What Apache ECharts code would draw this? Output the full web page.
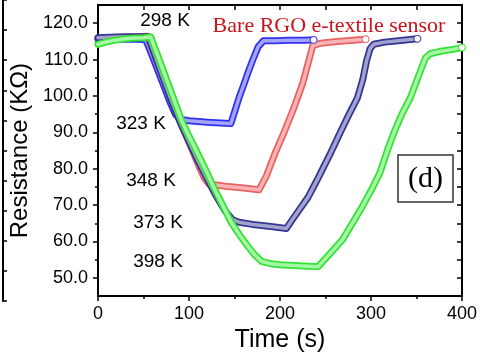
<!DOCTYPE html>
<html>
<head>
<meta charset="utf-8">
<script src="https://cdn.jsdelivr.net/npm/echarts@6/dist/echarts.min.js"></script>
<style>html,body{margin:0;padding:0;background:#fff;}#c{width:480px;height:358px;}</style>
</head>
<body>
<div id="c"></div>
<script>
// ---- data ----
const xTicks = [0, 100, 200, 300, 400];
const yLabels = [50, 60, 70, 80, 90, 100, 110, 120];
const yMinor = [55, 65, 75, 85, 95, 105, 115];
const yRight = [50, 55, 60, 65, 70, 75, 80, 85, 90, 95, 100, 105, 110, 115, 120];
const tempLabels = ['298 K', '323 K', '348 K', '373 K', '398 K'];
const titleText = 'Bare RGO e-textile sensor';
const panelLabel = '(d)';

const tBlue = [0, 10, 20, 30, 40, 50, 53, 60, 70, 80, 85, 90, 100, 120, 140, 146, 150, 155, 160, 165, 170, 176, 182, 195, 210, 225, 237];
const rBlue = [115.6, 115.7, 115.7, 115.6, 115.6, 115.5, 115.2, 110.8, 104.3, 97.9, 95.0, 93.6, 93.2, 92.8, 92.5, 92.4, 95.5, 99.5, 102.9, 106.5, 109.8, 113.5, 115.2, 115.2, 115.3, 115.3, 115.4];

const tRed = [0, 20, 40, 55, 60, 70, 80, 90, 100, 110, 117, 122, 140, 160, 177, 185, 195, 205, 215, 225, 232, 236, 245, 260, 280, 294];
const rRed = [115.8, 116.1, 116.3, 116.4, 112.8, 106.2, 99.5, 93.2, 87.3, 81.3, 77.4, 75.8, 75.2, 74.7, 74.2, 78.0, 84.5, 90.3, 96.5, 103.5, 110.0, 113.8, 114.5, 114.9, 115.3, 115.6];

const tNavy = [0, 20, 40, 55, 60, 70, 80, 90, 100, 110, 120, 130, 140, 148, 155, 170, 190, 207, 215, 231, 242, 255, 267, 276, 285, 291, 295, 299, 303, 315, 330, 351];
const rNavy = [116.0, 116.2, 116.3, 116.3, 113.0, 106.0, 99.3, 93.0, 87.5, 82.2, 77.2, 72.5, 68.3, 66.0, 65.3, 64.7, 64.1, 63.6, 66.5, 72.2, 77.5, 84.0, 90.4, 95.0, 99.4, 104.5, 109.5, 113.0, 114.2, 114.8, 115.2, 115.7];

const tGreen = [0, 10, 20, 30, 40, 50, 58, 65, 75, 85, 92, 100, 110, 120, 127, 137, 147, 157, 165, 172, 180, 190, 200, 215, 230, 242, 258, 269, 274, 280, 290, 302, 310, 318, 326, 334, 343, 350, 356, 360, 365, 375, 390, 400];
const rGreen = [114.2, 114.9, 115.4, 115.7, 115.9, 116.0, 116.2, 111.6, 104.8, 98.0, 93.2, 89.0, 84.0, 78.8, 75.0, 70.0, 65.0, 61.3, 58.6, 56.4, 54.5, 53.9, 53.6, 53.4, 53.2, 53.1, 57.5, 60.6, 62.7, 65.2, 69.4, 74.9, 79.0, 85.0, 90.4, 95.0, 99.4, 104.0, 108.0, 110.5, 111.6, 112.2, 112.8, 113.3];

// ---- build ----
const curves = [
  {t: tBlue, r: rBlue, outer: '#3030f2', inner: '#a4a4fb'},
  {t: tRed, r: rRed, outer: '#e86262', inner: '#f8b4b4'},
  {t: tNavy, r: rNavy, outer: '#363692', inner: '#a2a2cf'},
  {t: tGreen, r: rGreen, outer: '#34e234', inner: '#a6f8a6'}
];
const FONT = 'Liberation Sans, Arial, sans-serif';
const SERIF = 'Liberation Serif, Times New Roman, serif';

const series = [];
curves.forEach(c => {
  const pts = c.t.map((t, i) => [t, c.r[i]]);
  series.push({
    type: 'line', xAxisIndex: 0, yAxisIndex: 0, data: pts, symbol: 'none', silent: true,
    lineStyle: {color: c.outer, width: 7, cap: 'round', join: 'round'}
  });
  const innerPts = pts.map((p, i) => i === pts.length - 1
    ? {value: p, symbol: 'circle', symbolSize: 7, itemStyle: {color: '#fff', borderColor: c.outer, borderWidth: 1}}
    : p);
  series.push({
    type: 'line', xAxisIndex: 0, yAxisIndex: 0, data: innerPts, symbol: 'none', showSymbol: true, silent: true,
    lineStyle: {color: c.inner, width: 3.5, cap: 'round', join: 'round'}
  });
});

const blackLine = {show: true, lineStyle: {color: '#000', width: 2}};
const tickStyle = {color: '#000', width: 1.5};

const tempPos = [[165, 21], [141, 124], [151, 181], [158, 223], [158, 262]];
const graphics = tempLabels.map((s, i) => ({
  type: 'text', x: tempPos[i][0], y: tempPos[i][1],
  style: {text: s, font: '19px ' + FONT, fill: '#000', textAlign: 'center', textVerticalAlign: 'middle'}
}));
graphics.push({
  type: 'text', x: 329, y: 26,
  style: {text: titleText, font: '22px ' + SERIF, fill: '#c8141a', textAlign: 'center', textVerticalAlign: 'middle'}
});
graphics.push({
  type: 'rect', shape: {x: 398, y: 155, width: 55, height: 47},
  style: {fill: '#fff', stroke: '#333', lineWidth: 1.5}
});
graphics.push({
  type: 'text', x: 425.5, y: 179,
  style: {text: panelLabel, font: '30px ' + SERIF, fill: '#000', textAlign: 'center', textVerticalAlign: 'middle'}
});

const option = {
  animation: false,
  backgroundColor: '#fff',
  grid: [
    {left: 95, right: 17, top: 5, bottom: 57},
    {left: 3, width: 1, top: 0, bottom: 57}
  ],
  xAxis: [
    {
      gridIndex: 0, type: 'value', position: 'bottom', min: 0, max: 400, interval: 100,
      axisLine: blackLine,
      axisTick: {show: true, length: 5, lineStyle: tickStyle},
      minorTick: {show: true, splitNumber: 2, length: 3, lineStyle: tickStyle},
      axisLabel: {fontSize: 18, fontFamily: FONT, color: '#000', margin: 9,
        customValues: xTicks},
      splitLine: {show: false},
      name: 'Time (s)', nameLocation: 'middle', nameGap: 23,
      nameTextStyle: {fontSize: 25, fontFamily: FONT, color: '#000'}
    },
    {
      gridIndex: 0, type: 'value', position: 'top', min: 0, max: 400, interval: 50,
      axisLine: blackLine,
      axisTick: {show: true, inside: true, length: 5, lineStyle: tickStyle},
      axisLabel: {show: false}, splitLine: {show: false}
    },
    {gridIndex: 1, type: 'value', show: false, min: 0, max: 1}
  ],
  yAxis: [
    {
      gridIndex: 0, type: 'value', position: 'left', min: 45, max: 125, interval: 5,
      axisLine: blackLine,
      axisTick: {show: true, length: 5, lineStyle: tickStyle, customValues: yLabels},
      axisLabel: {fontSize: 18, fontFamily: FONT, color: '#000', margin: 10,
        customValues: yLabels, formatter: v => Number(v).toFixed(1)},
      splitLine: {show: false},
      name: 'Resistance (KΩ)', nameLocation: 'middle', nameGap: 61, nameRotate: 90,
      nameTextStyle: {fontSize: 24, fontFamily: FONT, color: '#000'}
    },
    {
      gridIndex: 0, type: 'value', position: 'left', min: 45, max: 125, interval: 5,
      axisLine: {show: false},
      axisTick: {show: true, length: 3, lineStyle: tickStyle, customValues: yMinor},
      axisLabel: {show: false}, splitLine: {show: false}
    },
    {
      gridIndex: 0, type: 'value', position: 'right', min: 45, max: 125, interval: 5,
      axisLine: blackLine,
      axisTick: {show: true, inside: true, length: 5, lineStyle: tickStyle, customValues: yRight},
      axisLabel: {show: false}, splitLine: {show: false}
    },
    {
      gridIndex: 1, type: 'value', position: 'left', min: 0, max: 10, interval: 1,
      axisLine: blackLine,
      axisTick: {show: true, inside: true, length: 4, lineStyle: tickStyle},
      axisLabel: {show: false}, splitLine: {show: false}
    }
  ],
  series: series,
  graphic: graphics
};

const chart = echarts.init(document.getElementById('c'), null, {renderer: 'canvas'});
chart.setOption(option);
</script>
</body>
</html>
